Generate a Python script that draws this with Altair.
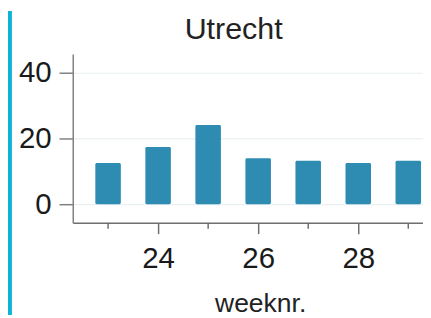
import altair as alt
import pandas as pd

title_text = ["Utrecht"]
weeks = [23, 24, 25, 26, 27, 28, 29]
values = [12.5, 17.4, 24.1, 14.0, 13.2, 12.5, 13.2]
major_ticks = [24, 26, 28]
minor_ticks = [23, 25, 27, 29]
y_ticks = [0, 20, 40]

FONT = "Liberation Sans"
W, H = 357, 172

df = pd.DataFrame({"week": weeks, "value": values})
xscale = alt.Scale(domain=[22.294, 29.294], nice=False, zero=False)
yscale = alt.Scale(domain=[-5.67, 45.67], nice=False, zero=False)

bars = alt.Chart(df).transform_calculate(
    x0="datum.week - 0.255", x1="datum.week + 0.255"
).mark_bar(color="#2e8cb2", cornerRadius=1.5, clip=True).encode(
    x=alt.X("x0:Q", scale=xscale, axis=alt.Axis(
        values=major_ticks, title="weeknr.", grid=False,
        domainColor="#6e6e6e", domainWidth=1.5, tickColor="#6e6e6e", tickWidth=1.5,
        tickSize=11, labelFontSize=30, labelFont=FONT, labelColor="#1a1a1a",
        labelPadding=11, titleFont=FONT, titleFontSize=27, titleFontWeight="normal",
        titleColor="#222222", titleX=191, titleY=90, titleBaseline="alphabetic",
        titleAnchor="start", titleAlign="center")),
    x2="x1:Q",
    y=alt.Y("value:Q", scale=yscale, axis=alt.Axis(
        values=y_ticks, title=None, grid=True, gridColor="#e9f1f3", gridWidth=1.2,
        domainColor="#808080", domainWidth=1.5, tickColor="#808080", tickWidth=1.5,
        tickSize=14, labelFontSize=30, labelFont=FONT, labelColor="#1a1a1a",
        labelPadding=8)),
    y2=alt.datum(0),
)

minor = alt.Chart(pd.DataFrame({"week": minor_ticks})).mark_rule(
    color="#6e6e6e", strokeWidth=1.5, clip=False
).encode(
    x=alt.X("week:Q", scale=xscale),
    y=alt.value(H),
    y2=alt.value(H + 6),
)

border = alt.Chart(pd.DataFrame({"a": [0]})).mark_rule(
    color="#0bb5d3", strokeWidth=4, clip=False
).encode(
    x=alt.value(-64), y=alt.value(-44), y2=alt.value(266)
)

title = alt.Chart(pd.DataFrame({"t": title_text})).mark_text(
    font=FONT, fontSize=31, color="#222222", align="center",
    baseline="alphabetic", clip=False
).encode(
    text="t:N", x=alt.value(164), y=alt.value(-15)
)

chart = alt.layer(bars, minor, border, title).properties(
    width=W, height=H,
    autosize=alt.AutoSizeParams(type="none"),
    padding={"left": 66, "top": 44, "right": 0, "bottom": 94},
).configure_view(stroke=None)

chart.save("out.html", embed_options={"renderer": "svg", "actions": False})
